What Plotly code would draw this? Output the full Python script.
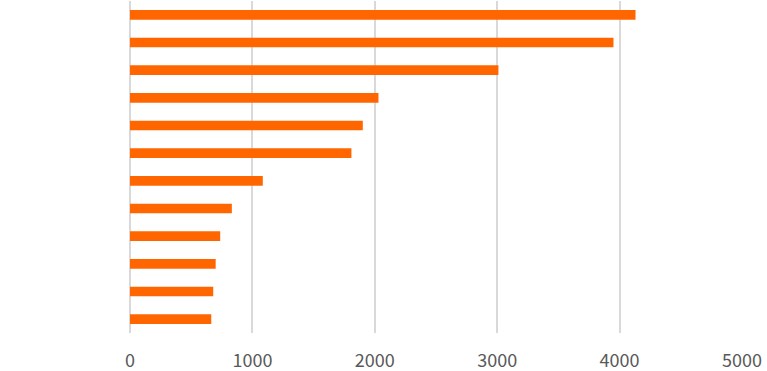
import plotly.graph_objects as go

categories = ["A", "B", "C", "D", "E", "F", "G", "H", "I", "J", "K", "L"]
values = [4130, 3950, 3010, 2030, 1902, 1809, 1085, 832, 737, 700, 680, 664]
x_ticks = [0, 1000, 2000, 3000, 4000, 5000]

fig = go.Figure(go.Bar(
    x=values, y=categories, orientation="h",
    marker=dict(color="#ff6600", line=dict(width=0)),
    width=0.35, hoverinfo="skip",
))

fig.update_layout(
    width=767, height=371,
    margin=dict(l=130, r=25, t=1, b=38, autoexpand=False),
    paper_bgcolor="white", plot_bgcolor="white",
    showlegend=False,
    xaxis=dict(
        range=[0, 5000], tickvals=x_ticks, ticktext=[str(v) for v in x_ticks],
        showgrid=True, gridcolor="#d9d9d9", gridwidth=2,
        zeroline=True, zerolinecolor="#d9d9d9", zerolinewidth=2,
        showline=False, automargin=False,
        ticks="outside", ticklen=11, tickcolor="rgba(0,0,0,0)",
        tickfont=dict(family="Noto Sans CJK SC", size=18, color="#595959"),
        fixedrange=True,
    ),
    yaxis=dict(
        autorange="reversed", showticklabels=False, showgrid=False,
        zeroline=False, showline=False, ticks="", automargin=False,
        fixedrange=True,
    ),
)

fig.write_html(
    "out.html",
    config={"displayModeBar": False, "staticPlot": True},
    post_script="document.body.style.margin='0';document.body.style.overflow='hidden';",
)
